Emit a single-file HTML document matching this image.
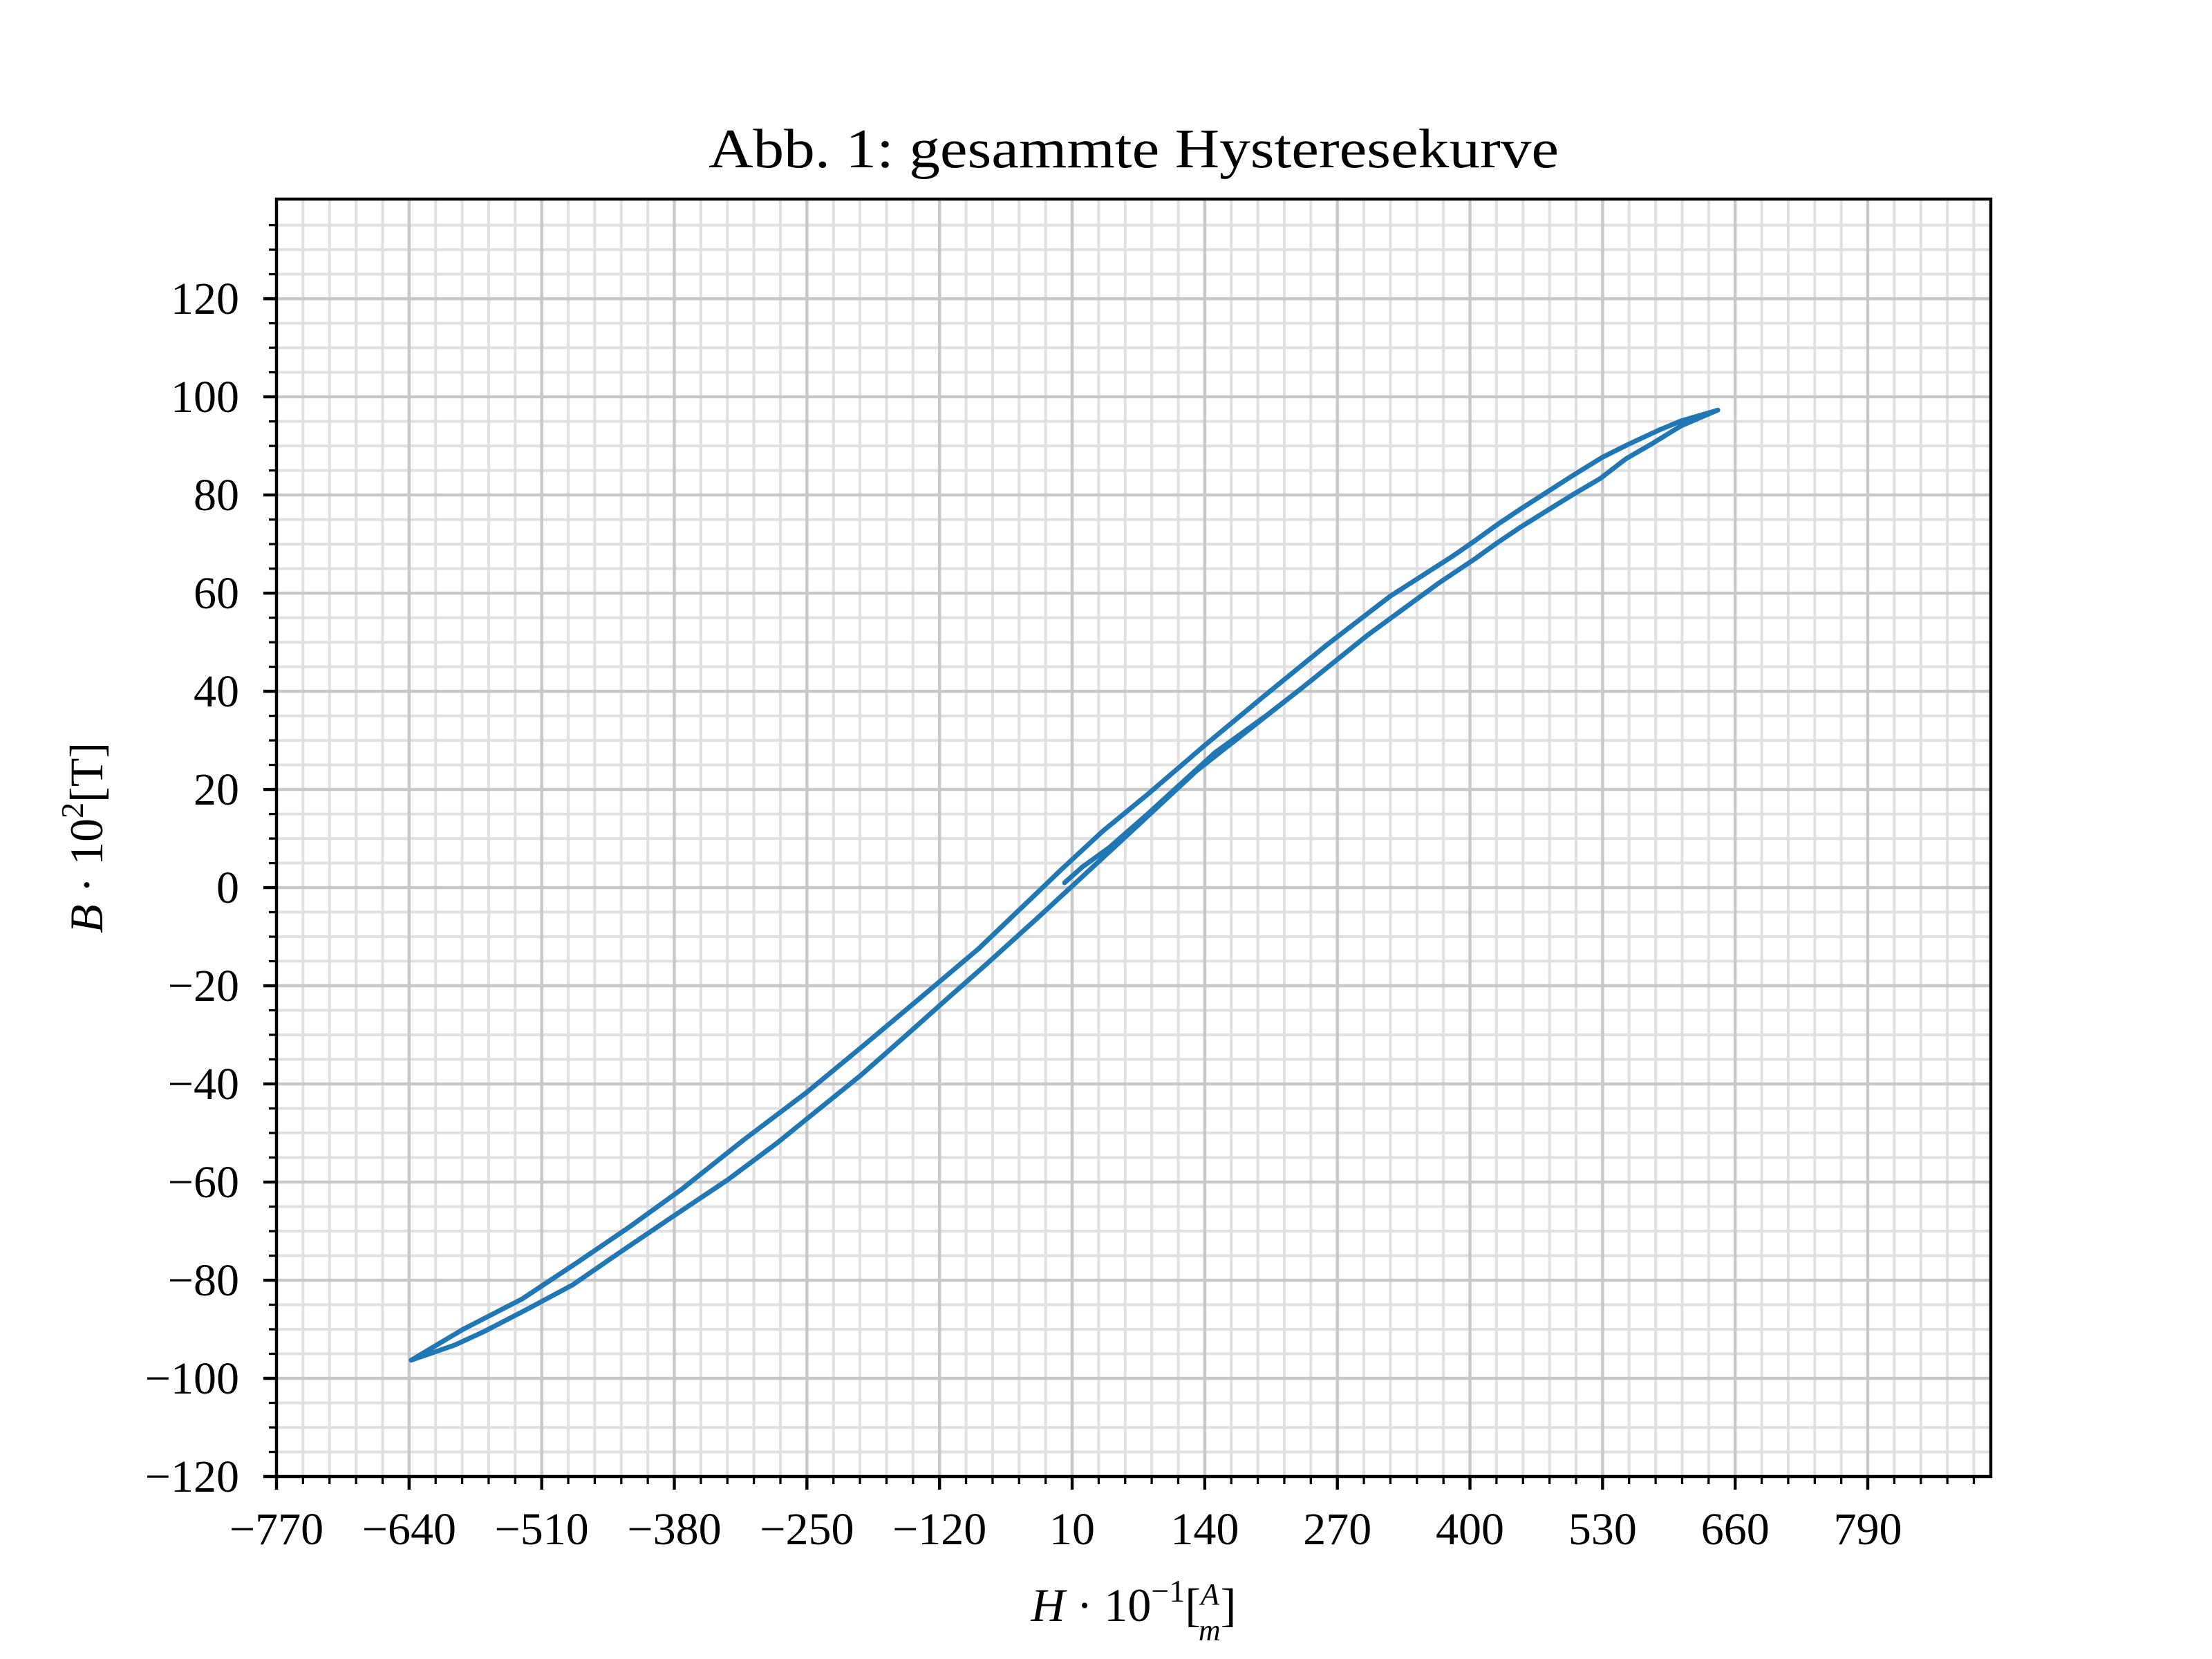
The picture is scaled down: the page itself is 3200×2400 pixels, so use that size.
<!DOCTYPE html>
<html><head><meta charset="utf-8"><style>
html,body{margin:0;padding:0;background:#fff;}
svg{display:block;}
text{font-family:"Liberation Serif","DejaVu Serif",serif;fill:#000;}
</style></head>
<body>
<svg id="chart" width="3200" height="2400" viewBox="0 0 3200 2400" xmlns="http://www.w3.org/2000/svg">
<rect width="3200" height="2400" fill="#fff"/>
<g id="grid"></g>
<g id="curve"></g>
<g id="axes"></g>
<text x="1640" y="242" font-size="80" text-anchor="middle" textLength="1230" lengthAdjust="spacingAndGlyphs">Abb. 1: gesammte Hysteresekurve</text>
<text x="1640" y="2345" font-size="68" text-anchor="middle"><tspan font-style="italic">H</tspan> · 10<tspan dy="-28" font-size="46">−1</tspan><tspan dy="28">[</tspan><tspan font-style="italic" font-size="44" dy="-24">A</tspan><tspan font-style="italic" font-size="44" dx="-30" dy="52">m</tspan><tspan dy="-28">]</tspan></text>
<text transform="translate(148,1212) rotate(-90)" font-size="68" text-anchor="middle"><tspan font-style="italic">B</tspan> · 10<tspan dy="-28" font-size="46">2</tspan><tspan dy="28">[T]</tspan></text>
</svg>
<script>
// data
const upperH = [643,607,585,555,530,501,477,450,427,405,382,322,260,198,140,84,40,0,-28,-82,-139,-197,-250,-312,-373,-423,-476,-529,-587,-638];
const upperB = [97.3,95.1,93.2,90.3,87.7,84,80.8,77.2,74,70.7,67.4,59.4,49.5,39,29,19,11.5,3.8,-1.8,-12.5,-22.5,-32.6,-41.7,-51.4,-61.5,-69,-76.5,-83.8,-90,-96.3];
const lowerH = [-638,-595,-566,-525,-480,-431,-382,-328,-279,-238,-197,-156,-115,-74,-24,10,60,132,236,300,369,405,427,450,477,501,528,553,578,607,643];
const lowerB = [-96.3,-93.2,-90.4,-86,-81,-74,-67.1,-59.6,-52,-45.1,-38.2,-30.7,-23.1,-15.6,-6.2,0.3,9.9,23.8,40.8,51.5,62,67,70.3,73.5,77,80.1,83.4,87.4,90.4,94.1,97.3];
const initH = [2.6,20,46,84,150,200,236];
const initB = [1.0,4.2,8.1,15,27.5,35,40.8];
const xTicks = [-770,-640,-510,-380,-250,-120,10,140,270,400,530,660,790];
const yTicks = [-120,-100,-80,-60,-40,-20,0,20,40,60,80,100,120];

const X0=400,X1=2880,Y0=2136,Y1=288;
const xMin=-770,xMax=910.6,yMin=-120,yMax=140.3;
const sx=v=>X0+(v-xMin)/(xMax-xMin)*(X1-X0);
const sy=v=>Y0-(v-yMin)/(yMax-yMin)*(Y0-Y1);
const NS="http://www.w3.org/2000/svg";
function mk(tag,attrs,parent){const e=document.createElementNS(NS,tag);for(const k in attrs)e.setAttribute(k,attrs[k]);parent.appendChild(e);return e;}
const grid=document.getElementById('grid'),axes=document.getElementById('axes'),curve=document.getElementById('curve');

for(let v=xMin;v<=xMax+0.01;v+=26){
  if(Math.abs(((v-xMin)%130))<0.01)continue;
  const l=mk('line',{x1:sx(v),x2:sx(v),y1:Y1,y2:Y0,stroke:'#e0e0e0','stroke-width':4},grid);
  
  
  const t=mk('line',{x1:sx(v),x2:sx(v),y1:Y0,y2:Y0+11,stroke:'#000','stroke-width':3.3},axes);
  
  
}
for(let v=yMin;v<=yMax+0.01;v+=5){
  if(Math.abs(v%20)<0.01)continue;
  const l=mk('line',{x1:X0,x2:X1,y1:sy(v),y2:sy(v),stroke:'#e0e0e0','stroke-width':4},grid);
  
  
  const t=mk('line',{x1:X0-11,x2:X0,y1:sy(v),y2:sy(v),stroke:'#000','stroke-width':3.3},axes);
  
  
}
xTicks.forEach(v=>{
  const l=mk('line',{x1:sx(v),x2:sx(v),y1:Y1,y2:Y0,stroke:'#c8c8c8','stroke-width':4.4},grid);
  
  
  const t=mk('line',{x1:sx(v),x2:sx(v),y1:Y0,y2:Y0+19,stroke:'#000','stroke-width':4.4},axes);
  
  
  const tx=mk('text',{x:sx(v),y:2234,'font-size':66,'text-anchor':'middle'},axes);
  tx.textContent=(v<0?'\u2212':'')+Math.abs(v);
  
  
});
yTicks.forEach(v=>{
  const l=mk('line',{x1:X0,x2:X1,y1:sy(v),y2:sy(v),stroke:'#c8c8c8','stroke-width':4.4},grid);
  
  
  const t=mk('line',{x1:X0-19,x2:X0,y1:sy(v),y2:sy(v),stroke:'#000','stroke-width':4.4},axes);
  
  
  const tx=mk('text',{x:346,y:sy(v)+22,'font-size':66,'text-anchor':'end'},axes);
  tx.textContent=(v<0?'\u2212':'')+Math.abs(v);
  
  
});
const frame=mk('rect',{x:X0,y:Y1,width:X1-X0,height:Y0-Y1,fill:'none',stroke:'#000','stroke-width':4.4},axes);



let pts=[];
initH.forEach((h,i)=>pts.push([h,initB[i]]));
lowerH.forEach((h,i)=>{if(h>initH[initH.length-1])pts.push([h,lowerB[i]]);});
upperH.forEach((h,i)=>pts.push([h,upperB[i]]));
lowerH.forEach((h,i)=>pts.push([h,lowerB[i]]));
const d=pts.map((p,i)=>(i?'L':'M')+sx(p[0]).toFixed(1)+' '+sy(p[1]).toFixed(1)).join(' ');
const path=mk('path',{d:d,fill:'none',stroke:'#1f77b4','stroke-width':7,'stroke-linejoin':'round','stroke-linecap':'round'},curve);


</script>
</body></html>
